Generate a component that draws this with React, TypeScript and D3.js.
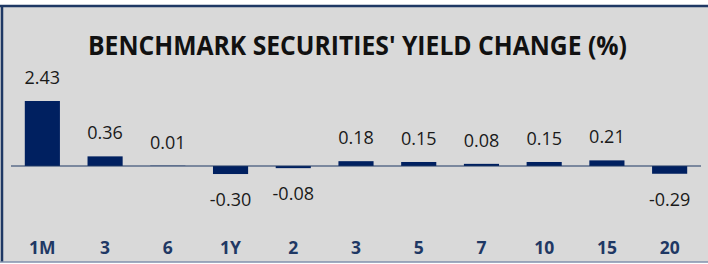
import React from "react";
import * as d3 from "d3";

// chart data
const tenors = ["1M", "3", "6", "1Y", "2", "3 ", "5", "7", "10", "15", "20"];
const yieldChange = [2.43, 0.36, 0.01, -0.3, -0.08, 0.18, 0.15, 0.08, 0.15, 0.21, -0.29];
const chartTitle = "BENCHMARK SECURITIES' YIELD CHANGE (%)";

const width = 708;
const height = 264;
const navy = "#002060";
const labelNavy = "#1f3864";
const font = "'Open Sans', 'DejaVu Sans', sans-serif";

const App = () => {
  // scales
  const x = d3.scaleBand<string>().domain(tenors).range([11, 701]).paddingInner(0.44).paddingOuter(0.22);
  const y = d3.scaleLinear().domain([-1, 3]).range([192.75, 85.75]);

  return (
    <svg
      width={width}
      height={height}
      style={{ position: "absolute", left: 0, top: 0, background: "#fff" }}
    >
      {/* panel */}
      <rect x={0} y={5} width={width} height={257} fill="#d9d9d9" />
      <line x1={0} x2={width} y1={6} y2={6} stroke="#1f3864" strokeWidth={2.5} />
      <line x1={2} x2={2} y1={5} y2={262} stroke="#1f3864" strokeWidth={2.5} />
      <line x1={0} x2={width} y1={262} y2={262} stroke="#8090ad" strokeWidth={1.5} />

      <text
        x={357.5}
        y={55}
        textAnchor="middle"
        fontFamily={font}
        fontWeight={700}
        fontSize={26.5}
        textLength={539}
        lengthAdjust="spacingAndGlyphs"
        fill="#111"
      >
        {chartTitle}
      </text>

      {/* bars */}
      {tenors.map((t, i) => {
        const v = yieldChange[i];
        const y0 = y(0);
        const yv = y(v);
        return (
          <rect
            key={"b" + i}
            x={x(t)}
            y={Math.min(y0, yv)}
            width={x.bandwidth()}
            height={Math.abs(yv - y0)}
            fill={navy}
          />
        );
      })}

      {/* zero axis */}
      <line x1={11} x2={701} y1={y(0)} y2={y(0)} stroke={labelNavy} strokeWidth={1.2} />

      {/* value labels */}
      {tenors.map((t, i) => {
        const v = yieldChange[i];
        const ly = v >= 0 ? y(v) - 17 : y(v) + 32;
        return (
          <text
            key={"v" + i}
            x={(x(t) ?? 0) + x.bandwidth() / 2}
            y={ly}
            textAnchor="middle"
            fontFamily={font}
            fontSize={18}
            fill="#1a1a1a"
          >
            {v.toFixed(2)}
          </text>
        );
      })}

      {/* category labels */}
      {tenors.map((t, i) => (
        <text
          key={"c" + i}
          x={(x(t) ?? 0) + x.bandwidth() / 2}
          y={254}
          textAnchor="middle"
          fontFamily={font}
          fontWeight={700}
          fontSize={17.5}
          fill={labelNavy}
        >
          {t.trim()}
        </text>
      ))}
    </svg>
  );
};

export default App;
